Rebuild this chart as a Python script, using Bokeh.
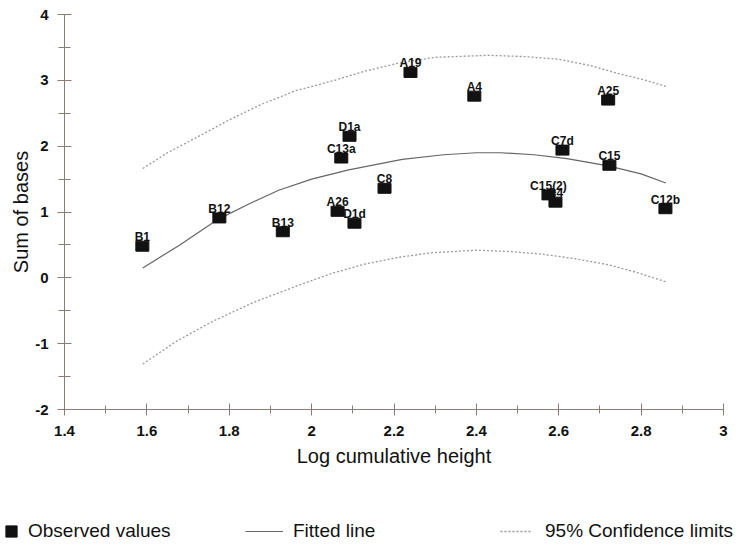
from bokeh.plotting import figure
from bokeh.layouts import column
from bokeh.models import (ColumnDataSource, Range1d, FixedTicker, Legend, LegendItem)
from bokeh.core.properties import value
from bokeh.embed import file_html
from bokeh.resources import INLINE

# ---- data ----
names = ["B1", "B12", "B13", "A26", "D1d", "C8", "C13a", "D1a", "A19", "A4",
         "C7d", "C15", "A25", "C15(2)", "C4", "C12b"]
log_height = [1.589, 1.776, 1.930, 2.063, 2.104, 2.177, 2.072, 2.092, 2.240, 2.395,
              2.609, 2.723, 2.720, 2.575, 2.592, 2.859]
sum_bases = [0.48, 0.91, 0.70, 1.01, 0.83, 1.36, 1.82, 2.15, 3.12, 2.76,
             1.94, 1.71, 2.70, 1.26, 1.15, 1.05]

fit_x = [1.59, 1.68, 1.77, 1.85, 1.92, 2.00, 2.09, 2.22, 2.32, 2.40, 2.46, 2.54, 2.62, 2.72, 2.80, 2.86]
fit_y = [0.15, 0.50, 0.88, 1.13, 1.33, 1.50, 1.64, 1.80, 1.87, 1.90, 1.90, 1.87, 1.81, 1.70, 1.58, 1.44]

upper_x = [1.59, 1.65, 1.72, 1.80, 1.88, 1.96, 2.05, 2.13, 2.21, 2.30, 2.43, 2.52, 2.60, 2.68, 2.74, 2.80, 2.86]
upper_y = [1.66, 1.90, 2.13, 2.40, 2.64, 2.84, 2.99, 3.14, 3.26, 3.35, 3.38, 3.36, 3.32, 3.22, 3.11, 3.02, 2.91]

lower_x = [1.59, 1.67, 1.76, 1.86, 1.97, 2.05, 2.13, 2.21, 2.29, 2.40, 2.48, 2.56, 2.64, 2.72, 2.79, 2.86]
lower_y = [-1.31, -0.97, -0.66, -0.37, -0.11, 0.07, 0.21, 0.31, 0.38, 0.42, 0.40, 0.36, 0.29, 0.20, 0.08, -0.06]

x_ticks = [1.4, 1.6, 1.8, 2.0, 2.2, 2.4, 2.6, 2.8, 3.0]
x_tick_labels = ["1.4", "1.6", "1.8", "2", "2.2", "2.4", "2.6", "2.8", "3"]
x_minor = [1.5, 1.7, 1.9, 2.1, 2.3, 2.5, 2.7, 2.9]
y_ticks = [-2, -1, 0, 1, 2, 3, 4]
y_tick_labels = ["-2", "-1", "0", "1", "2", "3", "4"]
y_minor = [-1.5, -0.5, 0.5, 1.5, 2.5, 3.5]

legend_labels = ["Observed values", "Fitted line", "95% Confidence limits"]

FONT = "Liberation Sans"
AXIS_COLOR = "#8a7d76"
PT_COLOR = "#111111"
FIT_COLOR = "#666666"
CI_COLOR = "#9a9a9a"

p = figure(width=744, height=500, output_backend="svg", toolbar_location=None,
           x_range=Range1d(1.4, 3.0), y_range=Range1d(-2, 4),
           min_border_left=64, min_border_right=21, min_border_top=14,
           min_border_bottom=91)
p.outline_line_color = None
p.xgrid.visible = False
p.ygrid.visible = False
p.background_fill_color = "white"
p.border_fill_color = "white"

# axes
p.xaxis.ticker = FixedTicker(ticks=x_ticks, minor_ticks=x_minor)
p.yaxis.ticker = FixedTicker(ticks=y_ticks, minor_ticks=y_minor)
p.xaxis.major_label_overrides = dict(zip(x_ticks, x_tick_labels))
p.yaxis.major_label_overrides = dict(zip(y_ticks, y_tick_labels))
for ax in (p.xaxis, p.yaxis):
    ax.axis_line_color = AXIS_COLOR
    ax.major_tick_line_color = AXIS_COLOR
    ax.minor_tick_line_color = AXIS_COLOR
    ax.major_label_text_font = FONT
    ax.major_label_text_font_size = "15px"
    ax.major_label_text_font_style = "bold"
    ax.major_label_text_color = "#111111"
    ax.axis_label_text_font = FONT
    ax.axis_label_text_font_size = "20px"
    ax.axis_label_text_font_style = "normal"
    ax.axis_label_text_color = "#111111"
p.xaxis.major_tick_in = 6
p.xaxis.major_tick_out = 6
p.xaxis.minor_tick_in = 4
p.xaxis.minor_tick_out = 4
p.yaxis.major_tick_in = 7
p.yaxis.major_tick_out = 7
p.yaxis.minor_tick_in = 6
p.yaxis.minor_tick_out = 6
p.xaxis.major_label_standoff = 10
p.yaxis.major_label_standoff = 9
p.xaxis.axis_label = "Log cumulative height"
p.yaxis.axis_label = "Sum of bases"
p.xaxis.axis_label_standoff = 6
p.yaxis.axis_label_standoff = 0

# curves
p.line(fit_x, fit_y, line_color=FIT_COLOR, line_width=1.2)
p.line(upper_x, upper_y, line_color=CI_COLOR, line_width=1.3, line_dash="2 2")
p.line(lower_x, lower_y, line_color=CI_COLOR, line_width=1.3, line_dash="2 2")

# points and labels
src = ColumnDataSource(dict(x=log_height, y=sum_bases, name=names))
p.text(x="x", y="y", text="name", source=src, text_align="center",
       text_baseline="alphabetic", y_offset=-9, text_font=value(FONT),
       text_font_size="12px", text_font_style="bold", text_color="#111111")
p.rect(x="x", y="y", width=13, height=10, width_units="screen",
       height_units="screen", source=src, fill_color=PT_COLOR, line_color=PT_COLOR)

# ---- legend strip below the chart ----
q = figure(width=744, height=55, output_backend="svg", toolbar_location=None,
           x_range=Range1d(0, 1), y_range=Range1d(0, 1),
           min_border_left=0, min_border_right=0, min_border_top=0,
           min_border_bottom=0)
q.frame_align = False
q.axis.visible = False
q.xgrid.visible = False
q.ygrid.visible = False
q.outline_line_color = None
q.border_fill_color = "white"
q.background_fill_color = "white"

r_pts = q.rect(x=[-5], y=[-5], width=13, height=10, width_units="screen",
               height_units="screen", fill_color=PT_COLOR, line_color=PT_COLOR)
r_fit = q.line(x=[-5, -4], y=[-5, -4], line_color=FIT_COLOR, line_width=1.2)
r_ci = q.line(x=[-5, -4], y=[-5, -4], line_color=CI_COLOR, line_width=1.3, line_dash="2 2")


def make_legend(label, renderer, x, gw, gh, standoff):
    lg = Legend(items=[LegendItem(label=label, renderers=[renderer])],
                location=(x, 13), orientation="horizontal",
                glyph_width=gw, glyph_height=gh, label_standoff=standoff,
                padding=0, margin=0, spacing=0,
                border_line_alpha=0, background_fill_alpha=0,
                label_text_font=FONT, label_text_font_size="19px",
                label_text_color="#111111", label_height=22)
    q.add_layout(lg, "center")


make_legend(legend_labels[0], r_pts, 4, 14, 14, 10)
make_legend(legend_labels[1], r_fit, 245, 38, 14, 10)
make_legend(legend_labels[2], r_ci, 500, 32, 14, 13)

layout = column(p, q, spacing=0)
open("out.html", "w").write(file_html(layout, INLINE))
